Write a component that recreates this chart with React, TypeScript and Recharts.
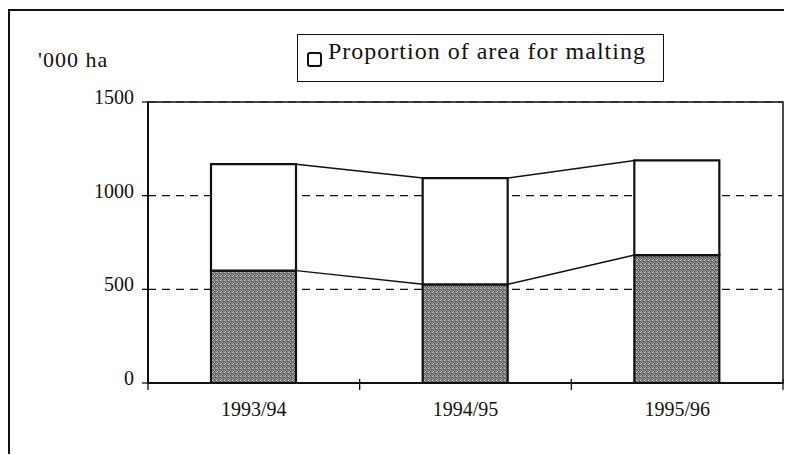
import React from 'react';
import { ComposedChart, Bar, Line, XAxis, YAxis, CartesianGrid, Legend, ReferenceArea } from 'recharts';

// values ('000 ha)
const seasons = ['1993/94', '1994/95', '1995/96'];
const maltingArea = [600, 527, 683];
const totalArea = [1168, 1094, 1188];
const yTicks = [0, 500, 1000, 1500];
const legendText = 'Proportion of area for malting';
const unitLabel = "'000 ha";

const data = seasons.map((season, i) => ({
  season,
  malting: maltingArea[i],
  rest: totalArea[i] - maltingArea[i],
  total: totalArea[i],
}));

const FONT = '"Liberation Serif", "Times New Roman", serif';
const CHART_W = 782;
const CHART_H = 444;
const MARGIN = { top: 91, right: 9, bottom: 42, left: 0 };
const Y_AXIS_W = 138;
const BAR_W = 85;
const BAND = (CHART_W - MARGIN.left - MARGIN.right - Y_AXIS_W) / seasons.length;

// Excel-style series lines joining the bar edges
const seriesSegment = (props: any) => {
  const { cx, cy, index, points } = props;
  const next = points && points[index + 1];
  if (!next || cx == null) return <g key={`seg-${index}`} />;
  return (
    <line
      key={`seg-${index}`}
      x1={cx + BAR_W / 2}
      y1={cy}
      x2={next.x - BAR_W / 2}
      y2={next.y}
      stroke="#111"
      strokeWidth={1.4}
    />
  );
};

const XTick = (props: any) => {
  const { x, y, payload, index } = props;
  const half = BAND / 2;
  return (
    <g>
      {index === 0 && <line x1={x - half} x2={x - half} y1={y - 4} y2={y + 7} stroke="#111" strokeWidth={1.3} />}
      <line x1={x + half} x2={x + half} y1={y - 4} y2={y + 7} stroke="#111" strokeWidth={1.3} />
      <text x={x} y={y + 33} textAnchor="middle" fontFamily={FONT} fontSize={20} fill="#111">
        {payload.value}
      </text>
    </g>
  );
};

const YTick = (props: any) => {
  const { x, y, payload } = props;
  return (
    <text x={x} y={y - 5} textAnchor="end" dominantBaseline="central" fontFamily={FONT} fontSize={20} fill="#111">
      {payload.value}
    </text>
  );
};

const LegendBox = () => (
  <div
    style={{
      position: 'relative',
      width: 367,
      height: 48,
      boxSizing: 'border-box',
      border: '1.5px solid #111',
      background: '#fff',
      fontFamily: FONT,
    }}
  >
    <div
      style={{
        position: 'absolute',
        left: 9,
        top: 17,
        width: 15,
        height: 15,
        boxSizing: 'border-box',
        border: '2px solid #111',
        borderRadius: 3,
        background: '#fff',
      }}
    />
    <div
      style={{
        position: 'absolute',
        left: 30,
        top: 4,
        fontSize: 24,
        lineHeight: '24px',
        letterSpacing: 1,
        color: '#111',
        whiteSpace: 'nowrap',
      }}
    >
      {legendText}
    </div>
  </div>
);

export default function App() {
  return (
    <div
      style={{
        position: 'relative',
        top: 1,
        width: CHART_W,
        height: CHART_H,
        borderTop: '2px solid #111',
        borderLeft: '2px solid #111',
        background: '#fff',
      }}
    >
      <svg width={0} height={0} style={{ position: 'absolute' }}>
        <defs>
          <pattern id="grain" width={4} height={4} patternUnits="userSpaceOnUse">
            <rect width={4} height={4} fill="#858585" />
            <rect x={0} y={0} width={1} height={1} fill="#3a3a3a" />
            <rect x={2} y={1} width={1} height={1} fill="#c4c4c4" />
            <rect x={1} y={2} width={1} height={1} fill="#444" />
            <rect x={3} y={3} width={1} height={1} fill="#505050" />
            <rect x={3} y={0} width={1} height={1} fill="#b8b8b8" />
            <rect x={0} y={3} width={1} height={1} fill="#aaa" />
            <rect x={2} y={2} width={1} height={1} fill="#606060" />
          </pattern>
        </defs>
      </svg>
      <div
        style={{
          position: 'absolute',
          left: 28,
          top: 38,
          fontFamily: FONT,
          fontSize: 22,
          lineHeight: '22px',
          letterSpacing: 1,
          color: '#111',
          whiteSpace: 'nowrap',
        }}
      >
        {unitLabel}
      </div>
      <ComposedChart width={CHART_W} height={CHART_H} data={data} margin={MARGIN}>
        <CartesianGrid vertical={false} stroke="#111" strokeWidth={1.2} strokeDasharray="8 6" />
        <XAxis
          dataKey="season"
          height={30}
          tickSize={0}
          tickMargin={0}
          tickLine={false}
          tick={<XTick />}
          axisLine={{ stroke: '#111', strokeWidth: 2 }}
        />
        <YAxis
          width={Y_AXIS_W}
          domain={[0, 1500]}
          ticks={yTicks}
          tickSize={6}
          tickMargin={8}
          tick={<YTick />}
          tickLine={{ stroke: '#111', strokeWidth: 1.3 }}
          axisLine={{ stroke: '#111', strokeWidth: 2 }}
        />
        <ReferenceArea y1={0} y2={1500} fill="none" stroke="#111" strokeWidth={1.5} />
        <Bar dataKey="malting" stackId="area" barSize={BAR_W} fill="url(#grain)" stroke="#111" strokeWidth={2.2} isAnimationActive={false} />
        <Bar dataKey="rest" stackId="area" barSize={BAR_W} fill="#fff" stroke="#111" strokeWidth={2.2} isAnimationActive={false} />
        <Line dataKey="malting" stroke="none" dot={seriesSegment} activeDot={false} legendType="none" isAnimationActive={false} />
        <Line dataKey="total" stroke="none" dot={seriesSegment} activeDot={false} legendType="none" isAnimationActive={false} />
        <Legend
          layout="horizontal"
          verticalAlign="middle"
          align="center"
          content={<LegendBox />}
          wrapperStyle={{ top: 23, left: 287, width: 'auto' }}
        />
      </ComposedChart>
    </div>
  );
}
